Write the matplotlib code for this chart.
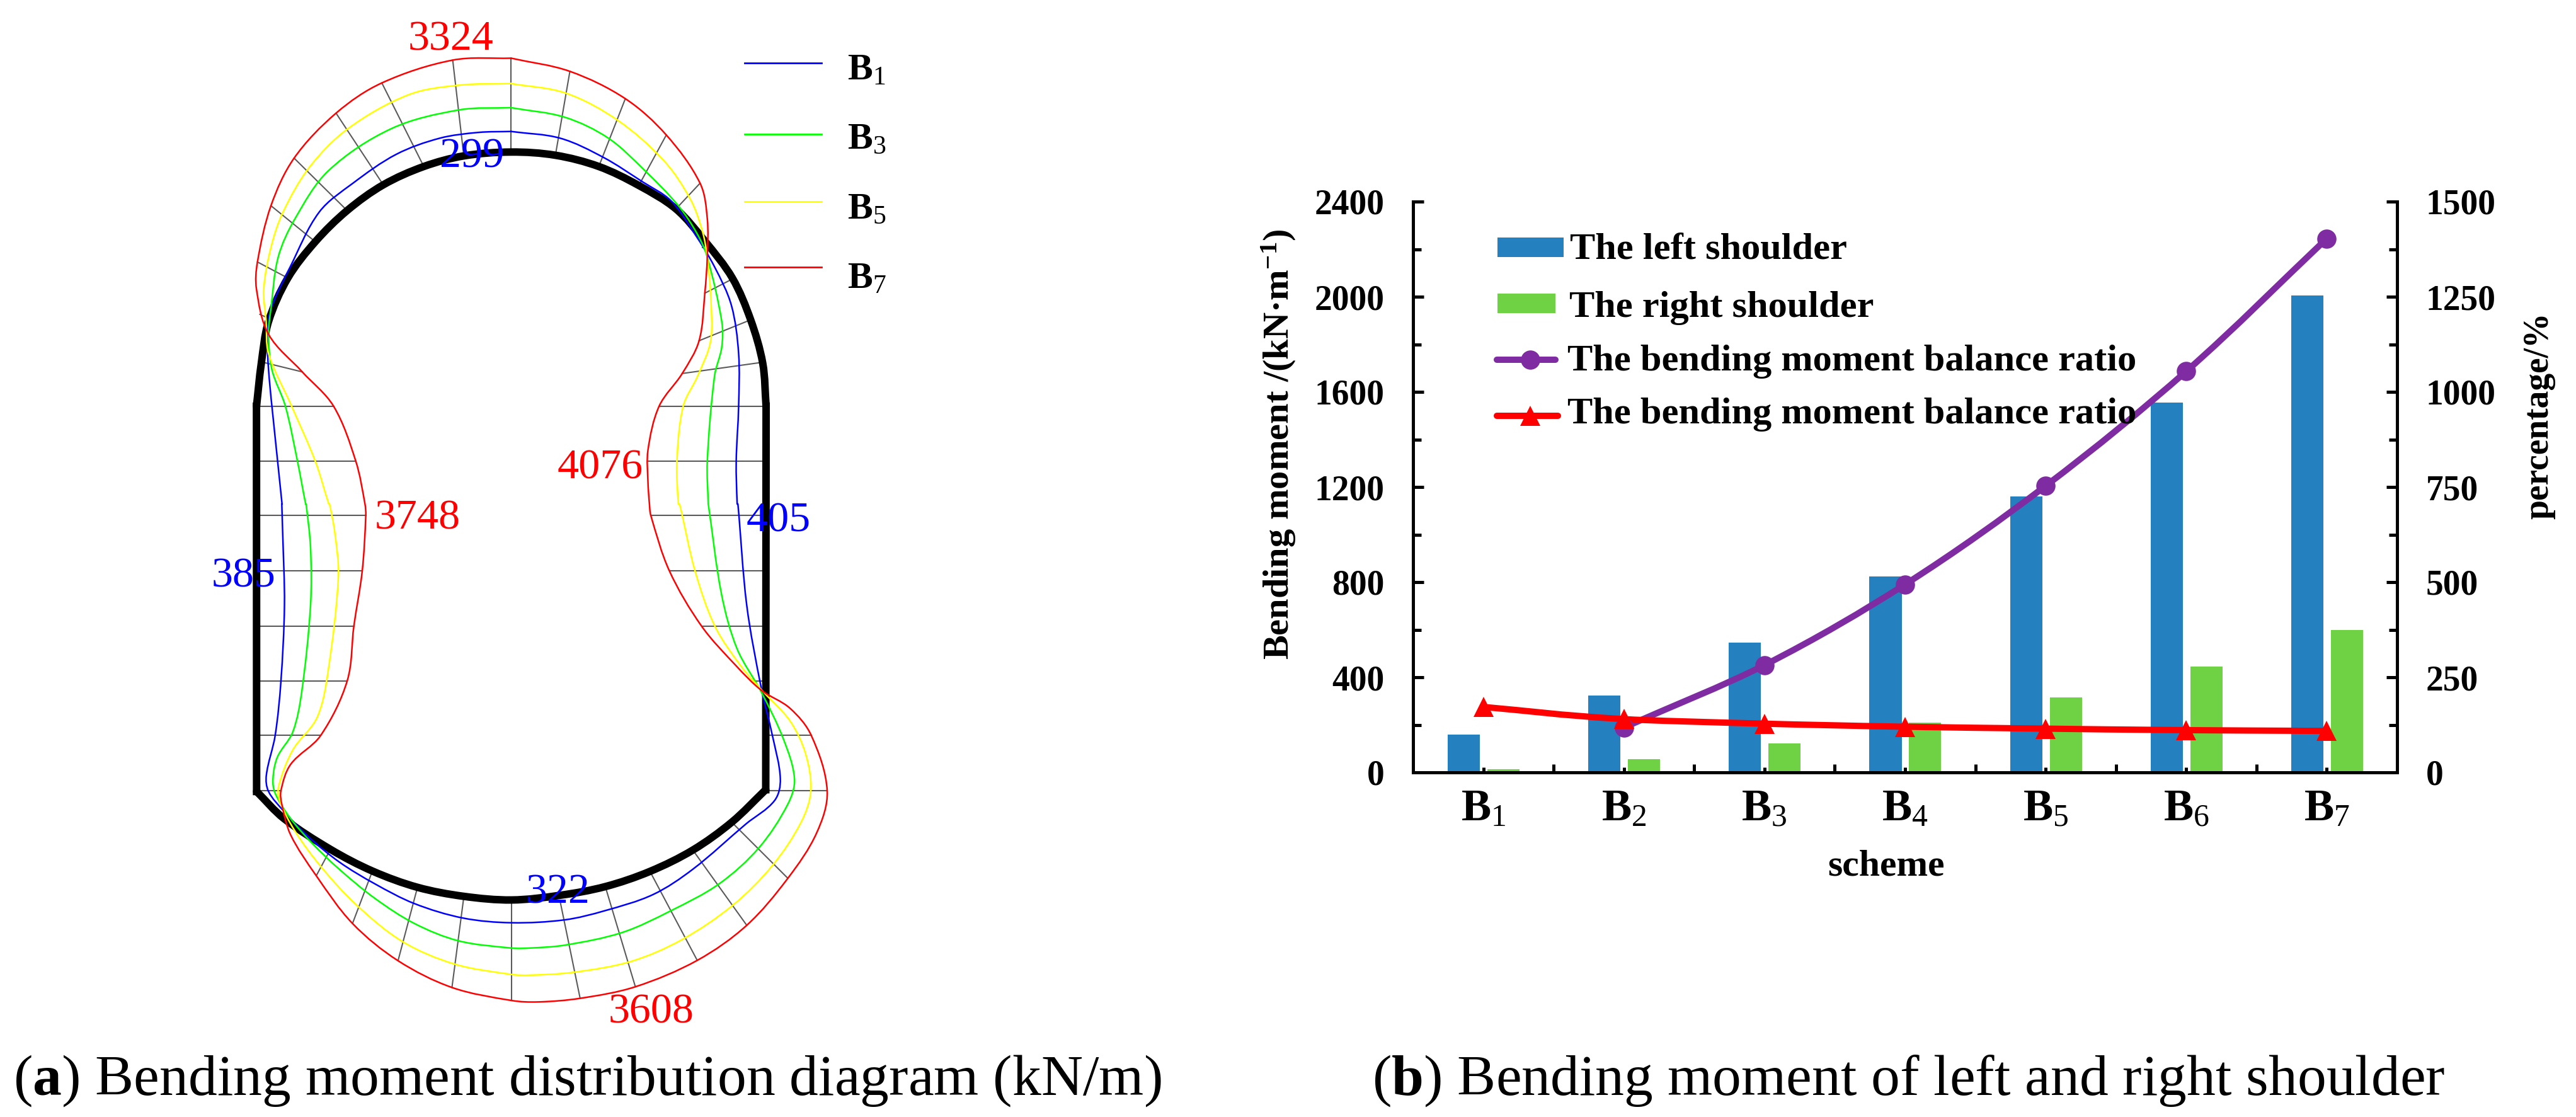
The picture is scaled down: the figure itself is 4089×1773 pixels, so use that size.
import math
import matplotlib
matplotlib.use("Agg")
import matplotlib.pyplot as plt
from matplotlib.path import Path
from matplotlib.patches import PathPatch, Rectangle

W, H = 4089, 1773

plt.rcParams["font.family"] = ["Liberation Serif", "DejaVu Serif"]
plt.rcParams["mathtext.fontset"] = "custom"
plt.rcParams["mathtext.rm"] = "Liberation Serif"
plt.rcParams["mathtext.bf"] = "Liberation Serif:bold"
plt.rcParams["mathtext.default"] = "regular"

# ---- right chart values
schemes = ["B_1", "B_2", "B_3", "B_4", "B_5", "B_6", "B_7"]
left_shoulder = [158, 324, 547, 824, 1160, 1555, 2005]
right_shoulder = [12, 55, 122, 209, 314, 446, 600]
ratio_purple = [118, 282, 494, 753, 1054, 1403]  # starts at B2
ratio_red = [172, 140, 128, 120, 115, 111, 109]

# ---- left diagram
# upper = points in the top crop, lower = points in the bottom crop
lining_arch = [(140, 1264), (150, 1130), (165, 1000), (205, 865), (262, 752), (328, 655), (403, 575),
               (487, 518), (570, 485), (668, 473), (760, 483), (850, 518), (933, 577), (1010, 650),
               (1070, 750), (1127, 865), (1165, 995), (1190, 1130), (1197, 1264)]
lining_invert = [(153, 795), (215, 870), (320, 955), (415, 1015), (517, 1060), (622, 1085), (730, 1095),
                 (840, 1082), (942, 1058), (1043, 1016), (1140, 957), (1228, 880), (1305, 790)]

b7_upper_right = [(668, 181), (790, 222), (905, 307), (990, 420), (1060, 570), (1075, 680), (1075, 800),
                  (1070, 910), (1058, 1060), (1023, 1162), (975, 1264), (952, 1400), (952, 1500), (955, 1568)]
b7_lower = [(1045, 32), (1087, 185), (1160, 338), (1240, 450), (1295, 515), (1360, 565), (1408, 640),
            (1444, 793), (1420, 910), (1355, 1035), (1262, 1165), (1150, 1262), (1010, 1335), (885, 1367),
            (790, 1377), (730, 1373), (595, 1337), (473, 1263), (370, 1160), (288, 1028), (230, 915),
            (210, 830), (208, 793), (230, 720), (298, 640), (358, 489), (373, 338), (392, 185), (400, 32)]
b7_upper_left = [(365, 1568), (346, 1435), (300, 1264), (235, 1157), (165, 1040), (140, 900), (142, 815),
                 (170, 640), (218, 492), (305, 352), (400, 258), (547, 187), (668, 181)]

b5_upper_right = [(668, 260), (782, 290), (890, 375), (985, 500), (1040, 620), (1065, 720), (1075, 800),
                  (1082, 920), (1082, 1060), (1055, 1170), (1025, 1264), (1012, 1435), (1015, 1568)]
b5_lower = [(1110, 0), (1145, 185), (1190, 338), (1250, 450), (1300, 520), (1360, 600), (1395, 690),
            (1407, 793), (1385, 880), (1320, 1000), (1230, 1110), (1115, 1205), (1000, 1265), (870, 1295),
            (770, 1303), (730, 1301), (600, 1272), (483, 1210), (380, 1110), (300, 1005), (240, 905),
            (205, 820), (203, 780), (235, 680), (290, 590), (315, 460), (338, 200), (330, 80), (318, 0)]
b5_upper_left = [(290, 1568), (262, 1435), (213, 1264), (165, 1100), (160, 1000), (155, 900), (170, 770),
                 (195, 660), (250, 520), (330, 400), (455, 295), (560, 265), (668, 260)]

b3_upper_right = [(668, 335), (780, 365), (870, 430), (945, 530), (1015, 640), (1055, 730), (1075, 800),
                  (1105, 1000), (1105, 1080), (1090, 1170), (1075, 1435), (1077, 1568)]
b3_lower = [(1175, 0), (1205, 250), (1240, 400), (1295, 520), (1345, 650), (1370, 760), (1355, 830),
            (1290, 950), (1200, 1050), (1090, 1125), (980, 1185), (850, 1220), (770, 1228), (730, 1228),
            (610, 1208), (510, 1160), (420, 1090), (340, 1010), (280, 940), (230, 870), (195, 800), (190, 760),
            (200, 700), (235, 630), (255, 520), (275, 280), (275, 120), (265, 0)]
b3_upper_left = [(242, 1568), (225, 1435), (200, 1264), (172, 1150), (165, 1040), (170, 960), (185, 800),
                 (220, 680), (290, 530), (420, 400), (560, 342), (668, 335)]

b1_upper_right = [(668, 409), (770, 430), (860, 490), (940, 565), (1000, 625), (1050, 730), (1090, 830),
                  (1125, 950), (1140, 1100), (1140, 1264), (1135, 1435), (1137, 1568)]
b1_lower = [(1242, 0), (1262, 280), (1295, 510), (1320, 640), (1338, 760), (1325, 820), (1260, 885),
            (1140, 1010), (1050, 1080), (940, 1125), (850, 1150), (730, 1158), (620, 1145), (510, 1105),
            (420, 1050), (340, 990), (270, 920), (215, 850), (180, 795), (175, 750), (195, 640), (208, 490),
            (216, 280), (212, 80), (210, 0)]
b1_upper_left = [(193, 1568), (180, 1380), (165, 1150), (163, 1040), (170, 960), (210, 830), (270, 660),
                 (340, 570), (430, 480), (520, 430), (600, 412), (668, 409)]

grey_upper = [((668, 181), (668, 473)), ((547, 187), (570, 485)), ((400, 258), (487, 518)),
              ((305, 352), (403, 575)), ((218, 492), (328, 655)), ((170, 640), (262, 752)),
              ((142, 815), (205, 865)), ((147, 978), (172, 995)), ((148, 1125), (235, 1157)),
              ((140, 1264), (300, 1264)), ((140, 1435), (346, 1435)),
              ((790, 222), (760, 483)), ((905, 307), (850, 518)), ((990, 420), (933, 577)),
              ((1060, 570), (1010, 650)), ((1075, 755), (1065, 770)), ((1127, 868), (1070, 912)),
              ((1165, 995), (1058, 1060)), ((1190, 1127), (1023, 1162)), ((1197, 1264), (975, 1264)),
              ((1197, 1435), (952, 1435))]
grey_lower = [((153, 32), (400, 32)), ((153, 185), (392, 185)), ((153, 338), (373, 338)),
              ((153, 489), (358, 489)), ((153, 640), (298, 640)), ((153, 793), (208, 793)),
              ((1305, 32), (1045, 32)), ((1305, 185), (1087, 185)), ((1305, 338), (1160, 338)),
              ((1305, 489), (1280, 489)), ((1305, 640), (1408, 640)), ((1305, 793), (1444, 793)),
              ((320, 955), (288, 1028)), ((415, 1015), (370, 1160)), ((517, 1060), (473, 1263)),
              ((622, 1085), (595, 1337)), ((730, 1095), (730, 1373)), ((840, 1100), (885, 1367)),
              ((942, 1058), (1010, 1335)), ((1043, 1016), (1150, 1262)), ((1140, 957), (1262, 1165)),
              ((1228, 880), (1355, 1035))]

# label text, left x, baseline y, colour
value_labels = [("3324", 648, 79, "#ff0000"), ("299", 698, 265, "#0000ff"), ("4076", 885, 760, "#ff0000"),
                ("3748", 595, 840, "#ff0000"), ("405", 1185, 843, "#0000ff"), ("385", 336, 931, "#0000ff"),
                ("322", 835, 1433, "#0000ff"), ("3608", 966, 1624, "#ff0000")]
curve_names = ["B_1", "B_3", "B_5", "B_7"]
curve_colors = ["#0000ff", "#00ff00", "#ffff00", "#ff0000"]


def upper(pts):
    return [(300 + x * 1200 / 1568, y * 800 / 1568) for x, y in pts]


def lower(pts):
    return [(300 + x * 1100 / 1568, 800 + y * 900 / 1568) for x, y in pts]


def smooth_path(pts):
    # bezier segments through the points, handles scaled by the chord so uneven spacing does not overshoot
    verts = [pts[0]]
    codes = [Path.MOVETO]

    def tangent(i):
        p0, p2 = pts[max(i - 1, 0)], pts[min(i + 1, len(pts) - 1)]
        n = math.hypot(p2[0] - p0[0], p2[1] - p0[1]) or 1
        return (p2[0] - p0[0]) / n, (p2[1] - p0[1]) / n

    for i in range(len(pts) - 1):
        p1, p2 = pts[i], pts[i + 1]
        chord = math.hypot(p2[0] - p1[0], p2[1] - p1[1]) / 3
        t1, t2 = tangent(i), tangent(i + 1)
        verts += [(p1[0] + t1[0] * chord, p1[1] + t1[1] * chord),
                  (p2[0] - t2[0] * chord, p2[1] - t2[1] * chord), p2]
        codes += [Path.CURVE4] * 3
    return Path(verts, codes)


def draw_smooth(ax, pts, color, lw, zorder=3):
    ax.add_patch(PathPatch(smooth_path(pts), fill=False, edgecolor=color, lw=lw, zorder=zorder,
                           capstyle="round", joinstyle="round"))


fig = plt.figure(figsize=(W / 100, H / 100), dpi=100, facecolor="white")

# ---- chart (b)
ax = fig.add_axes([2243 / W, 1 - 1226 / H, 1562 / W, 906 / H])
x = list(range(len(schemes)))
blue = "#2580bf"
green = "#6fd244"
bw = 0.229
ax.bar([i - 0.139 for i in x], left_shoulder, bw, color=blue, zorder=2)
ax.bar([i + 0.143 for i in x], right_shoulder, bw, color=green, zorder=2)
ax.set_xlim(-0.5, 6.5)
ax.set_ylim(0, 2400)
ax.set_yticks(range(0, 2401, 400))
ax.set_yticks(range(200, 2400, 400), minor=True)
ax.set_xticks(x)
ax.set_xticklabels([rf"$\mathbf{{B}}_{{{s[-1]}}}$" for s in schemes], fontsize=51)
ax.set_xticks([i + 0.5 for i in x[:-1]], minor=True)

ax2 = ax.twinx()
ax2.set_ylim(0, 1500)
ax2.set_yticks(range(0, 1501, 250))
ax2.set_yticks(range(125, 1500, 250), minor=True)
ax2.set_zorder(ax.get_zorder() + 1)
ax2.patch.set_visible(False)

draw_smooth(ax2, list(zip(x[1:], ratio_purple)), "#7f2ca2", 7.2)
ax2.plot(x[1:], ratio_purple, "o", color="#7f2ca2", ms=22, mew=0, zorder=4)
draw_smooth(ax2, list(zip(x, ratio_red)), "#ff0000", 7.2)
ax2.plot(x, ratio_red, "^", color="#ff0000", ms=23, mew=0, zorder=5)

for a in (ax, ax2):
    a.spines["top"].set_visible(False)
    for s in ("left", "right", "bottom"):
        a.spines[s].set_linewidth(3.6)
    a.tick_params(axis="y", which="major", direction="in", length=12, width=3.6, labelsize=40, pad=33)
    a.tick_params(axis="y", which="minor", direction="in", length=9.4, width=3.6)
    for lab in a.get_yticklabels():
        lab.set_fontweight("bold")
ax.tick_params(axis="x", which="major", direction="in", length=6, width=3.6, pad=19)
ax.tick_params(axis="x", which="minor", direction="in", length=9.4, width=3.6)

# ---- overlay in pixel coordinates: diagram (a), legends, captions
d = fig.add_axes([0, 0, 1, 1], zorder=10)
d.set_xlim(0, W)
d.set_ylim(H, 0)
d.axis("off")
d.patch.set_visible(False)

for seg in grey_upper:
    a, b = upper(list(seg))
    d.plot([a[0], b[0]], [a[1], b[1]], color="#5a5a5a", lw=1.5, zorder=1)
for seg in grey_lower:
    a, b = lower(list(seg))
    d.plot([a[0], b[0]], [a[1], b[1]], color="#5a5a5a", lw=1.5, zorder=1)

# thick lining: arch, walls, invert
arch = upper(lining_arch)
invert = lower(lining_invert)
draw_smooth(d, arch, "black", 8.6, zorder=2)
draw_smooth(d, invert, "black", 8.6, zorder=2)
d.plot([arch[0][0], invert[0][0]], [arch[0][1], invert[0][1]], color="black", lw=8.6, zorder=2)
d.plot([arch[-1][0], invert[-1][0]], [arch[-1][1], invert[-1][1]], color="black", lw=8.6, zorder=2)

curves = [(b1_upper_right, b1_lower, b1_upper_left), (b3_upper_right, b3_lower, b3_upper_left),
          (b5_upper_right, b5_lower, b5_upper_left), (b7_upper_right, b7_lower, b7_upper_left)]
for (ur, lo, ul), col in zip(curves, curve_colors):
    draw_smooth(d, upper(ur) + lower(lo) + upper(ul), col, 1.8, zorder=3)

for txt, tx, ty, col in value_labels:
    d.text(tx, ty, txt, color=col, fontsize=49, ha="left", va="baseline", zorder=6)

# legend of diagram (a)
leg_y = [99.5, 213, 320, 424]
leg_base = [127, 236, 347, 458]
for name, col, ly, by in zip(curve_names, curve_colors, leg_y, leg_base):
    d.plot([1182, 1304], [ly, ly], color=col, lw=2, zorder=3)
    d.text(1345, by, rf"$\mathbf{{B}}_{{{name[-1]}}}$", fontsize=43, ha="left", va="baseline")

# legend of chart (b)
d.add_patch(Rectangle((2377, 377), 105, 31, color=blue, lw=0))
d.add_patch(Rectangle((2377, 466), 92, 31, color=green, lw=0))
d.plot([2376, 2469], [571, 571], color="#7f2ca2", lw=7.2, solid_capstyle="round")
d.plot([2429], [571], "o", color="#7f2ca2", ms=22, mew=0)
d.plot([2376, 2473], [660, 660], color="#ff0000", lw=7.2, solid_capstyle="round")
d.plot([2429], [660], "^", color="#ff0000", ms=23, mew=0)
legend_rows = [("The left shoulder", 2492, 411), ("The right shoulder", 2491, 503),
               ("The bending moment balance ratio", 2488, 588), ("The bending moment balance ratio", 2488, 672)]
for txt, tx, ty in legend_rows:
    d.text(tx, ty, txt, fontsize=43.5, fontweight="bold", ha="left", va="baseline")

# axis titles
d.text(2060, 705, r"Bending moment /(kN·m$^{\mathbf{-1}}$)", rotation=90, fontsize=42, fontweight="bold",
       ha="right", va="center")
d.text(4056, 660, "percentage/%", rotation=90, fontsize=40, fontweight="bold", ha="right", va="center")
d.text(2994, 1389, "scheme", fontsize=43, fontweight="bold", ha="center", va="baseline")

# captions
d.text(21, 1738, r"($\mathbf{a}$) Bending moment distribution diagram (kN/m)", fontsize=66, ha="left", va="baseline")
d.text(2178, 1738, r"($\mathbf{b}$) Bending moment of left and right shoulder", fontsize=66, ha="left", va="baseline")

fig.savefig("out.png", dpi=100)
